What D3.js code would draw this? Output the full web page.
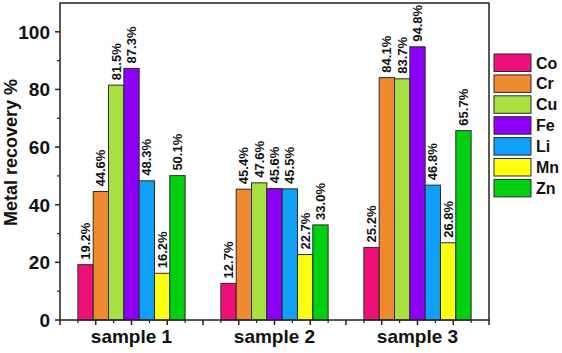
<!DOCTYPE html>
<html>
<head>
<meta charset="utf-8">
<script src="https://cdn.jsdelivr.net/npm/d3@7"></script>
<style>
  body { margin: 0; background: #fff; }
  text { font-family: "Liberation Sans", Arial, sans-serif; font-weight: bold; fill: #111; }
</style>
</head>
<body>
<div class="chart"></div>
<script>
// data
var samples = ["sample 1", "sample 2", "sample 3"];
var metals = ["Co", "Cr", "Cu", "Fe", "Li", "Mn", "Zn"];
var colors = ["#f0107a", "#f08a30", "#a8e040", "#8c00f8", "#10a0f8", "#ffff10", "#00d010"];
var sample1 = [19.2, 44.6, 81.5, 87.3, 48.3, 16.2, 50.1];
var sample2 = [12.7, 45.4, 47.6, 45.6, 45.5, 22.7, 33.0];
var sample3 = [25.2, 84.1, 83.7, 94.8, 46.8, 26.8, 65.7];
var yTicks = [0, 20, 40, 60, 80, 100];

var values = [sample1, sample2, sample3];

var width = 562, height = 353,
    margin = { top: 3, right: 73, bottom: 33, left: 60 },
    plotW = width - margin.left - margin.right,
    plotH = height - margin.top - margin.bottom;

var svg = d3.select(".chart").append("svg")
    .attr("width", width)
    .attr("height", height);

var g = svg.append("g")
    .attr("transform", "translate(" + margin.left + "," + margin.top + ")");

var y = d3.scaleLinear().domain([0, 110]).range([plotH, 0]);

var x0 = d3.scaleBand().domain(samples).range([0, plotW])
    .paddingInner(0.25).paddingOuter(0.125);
var x1 = d3.scaleBand().domain(metals).range([0, x0.bandwidth()]);
var color = d3.scaleOrdinal().domain(metals).range(colors);

// x ticks follow a plain 0..12 axis, like the origin plot
var xt = d3.scaleLinear().domain([0, 12]).range([0, plotW]);

// bars
var group = g.selectAll(".group")
    .data(samples)
    .enter().append("g")
      .attr("class", "group")
      .attr("transform", function(d) { return "translate(" + x0(d) + ",0)"; });

var bar = group.selectAll(".bar")
    .data(function(d, i) {
      return metals.map(function(m, j) { return { metal: m, value: values[i][j] }; });
    })
    .enter().append("g")
      .attr("class", "bar");

bar.append("rect")
    .attr("x", function(d) { return x1(d.metal); })
    .attr("y", function(d) { return y(d.value); })
    .attr("width", x1.bandwidth())
    .attr("height", function(d) { return plotH - y(d.value); })
    .style("fill", function(d) { return color(d.metal); })
    .style("stroke", "#2a2a2a")
    .style("stroke-width", 1);

bar.append("text")
    .attr("transform", function(d) {
      return "translate(" + (x1(d.metal) + x1.bandwidth() / 2) + "," + (y(d.value) - 5) + ") rotate(-90)";
    })
    .attr("dy", "0.35em")
    .style("font-size", "13px")
    .text(function(d) { return d.value.toFixed(1) + "%"; });

// frame
g.append("rect")
    .attr("width", plotW)
    .attr("height", plotH)
    .style("fill", "none")
    .style("stroke", "#222")
    .style("stroke-width", 1.5);

// y axis ticks
var yMinor = d3.range(10, 110, 20);
g.selectAll(".ytick").data(yTicks).enter().append("line")
    .attr("x1", -5).attr("x2", 0)
    .attr("y1", function(d) { return y(d); })
    .attr("y2", function(d) { return y(d); })
    .style("stroke", "#222").style("stroke-width", 1.5);
g.selectAll(".yminor").data(yMinor).enter().append("line")
    .attr("x1", -3).attr("x2", 0)
    .attr("y1", function(d) { return y(d); })
    .attr("y2", function(d) { return y(d); })
    .style("stroke", "#222").style("stroke-width", 1.2);
g.selectAll(".ylabel").data(yTicks).enter().append("text")
    .attr("x", -10)
    .attr("y", function(d) { return y(d); })
    .attr("dy", "0.36em")
    .style("text-anchor", "end")
    .style("font-size", "19px")
    .text(function(d) { return d; });

// x axis ticks
g.selectAll(".xtick").data(d3.range(0, 13)).enter().append("line")
    .attr("x1", function(d) { return xt(d); })
    .attr("x2", function(d) { return xt(d); })
    .attr("y1", plotH).attr("y2", plotH + 5)
    .style("stroke", "#222").style("stroke-width", 1.5);
g.selectAll(".xminor").data(d3.range(0.5, 12, 1)).enter().append("line")
    .attr("x1", function(d) { return xt(d); })
    .attr("x2", function(d) { return xt(d); })
    .attr("y1", plotH).attr("y2", plotH + 3)
    .style("stroke", "#222").style("stroke-width", 1.2);
g.selectAll(".xlabel").data(samples).enter().append("text")
    .attr("x", function(d) { return x0(d) + x0.bandwidth() / 2; })
    .attr("y", plotH + 23)
    .style("text-anchor", "middle")
    .style("font-size", "19px")
    .text(function(d) { return d; });

// y title
svg.append("text")
    .attr("transform", "translate(17," + (margin.top + plotH / 2 - 9) + ") rotate(-90)")
    .style("text-anchor", "middle")
    .style("font-size", "18px")
    .text("Metal recovery %");

// legend
var legendSize = 17.5, legendStep = 20.9;
var legend = svg.selectAll(".legend")
    .data(metals)
    .enter().append("g")
      .attr("class", "legend")
      .attr("transform", function(d, i) { return "translate(494," + (54 + i * legendStep) + ")"; });

legend.append("rect")
    .attr("width", 37)
    .attr("height", legendSize)
    .style("fill", function(d) { return color(d); })
    .style("stroke", "#2a2a2a")
    .style("stroke-width", 1);

legend.append("text")
    .attr("x", 42)
    .attr("y", legendSize / 2)
    .attr("dy", "0.36em")
    .style("font-size", "16px")
    .text(function(d) { return d; });
</script>
</body>
</html>
